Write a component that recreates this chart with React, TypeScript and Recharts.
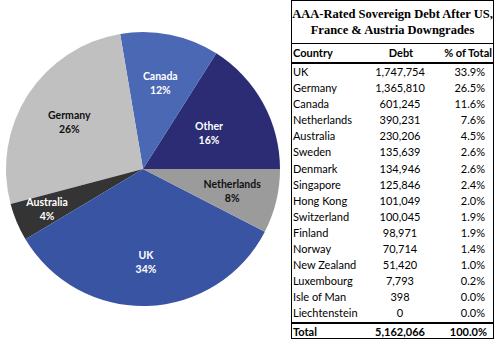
import React from "react";
import { PieChart, Pie, Cell } from "recharts";

// table rows
const countries = [
  "UK", "Germany", "Canada", "Netherlands", "Australia", "Sweden", "Denmark",
  "Singapore", "Hong Kong", "Switzerland", "Finland", "Norway", "New Zealand",
  "Luxembourg", "Isle of Man", "Liechtenstein",
];
const debts = [
  1747754, 1365810, 601245, 390231, 230206, 135639, 134946, 125846, 101049,
  100045, 98971, 70714, 51420, 7793, 398, 0,
];
const shares = [
  "33.9%", "26.5%", "11.6%", "7.6%", "4.5%", "2.6%", "2.6%", "2.4%", "2.0%",
  "1.9%", "1.9%", "1.4%", "1.0%", "0.2%", "0.0%", "0.0%",
];
const totalDebt = 5162066;
const totalShare = "100.0%";

// pie slices, counter-clockwise from 3 o'clock
const pieNames = ["Other", "Canada", "Germany", "Australia", "UK", "Netherlands"];
const shownCountries = ["UK", "Germany", "Canada", "Netherlands", "Australia"];
const otherDebt = countries
  .map((c, i) => (shownCountries.includes(c) ? 0 : debts[i]))
  .reduce((a, b) => a + b, 0);
const pieData = pieNames.map((name) => ({
  name,
  value: name === "Other" ? otherDebt : debts[countries.indexOf(name)],
}));

const sliceColors: Record<string, string> = {
  Other: "#2b2c74",
  Canada: "#4a68b3",
  Germany: "#c0c0c0",
  Australia: "#343434",
  UK: "#3a54a4",
  Netherlands: "#9b9b9b",
};
const labelColors: Record<string, string> = {
  Germany: "#111",
  Netherlands: "#111",
};
const labelRadius: Record<string, number> = {
  Other: 0.55,
  Canada: 0.64,
  Germany: 0.64,
  Australia: 0.76,
  UK: 0.68,
  Netherlands: 0.67,
};

const RAD = Math.PI / 180;
const fmt = (n: number) => n.toLocaleString("en-US");

function SliceLabel(props: any) {
  const { cx, cy, midAngle, outerRadius, percent, name } = props;
  const r = outerRadius * (labelRadius[name] ?? 0.65);
  const x = cx + r * Math.cos(-midAngle * RAD);
  const y = cy + r * Math.sin(-midAngle * RAD);
  return (
    <text
      x={x}
      y={y}
      textAnchor="middle"
      fill={labelColors[name] ?? "#fff"}
      fontFamily="Lato"
      fontWeight="bold"
      fontSize={10.5}
    >
      <tspan x={x} dy={-3}>{name}</tspan>
      <tspan x={x} dy={14}>{Math.round(percent * 100)}%</tspan>
    </text>
  );
}

const ROW_H = 16.1;
const cellFont = { fontFamily: "Lato", fontSize: 11, color: "#000" };

export default function App() {
  return (
    <div
      style={{
        position: "absolute",
        left: 0,
        top: 0,
        width: 500,
        height: 342,
        background: "#fff",
      }}
    >
      <PieChart width={290} height={342} style={{ position: "absolute", left: 0, top: 0 }}>
        <Pie
          data={pieData}
          dataKey="value"
          nameKey="name"
          cx={138}
          cy={164}
          outerRadius={137}
          startAngle={0}
          endAngle={360}
          stroke="none"
          label={SliceLabel}
          labelLine={false}
          isAnimationActive={false}
        >
          {pieData.map((d) => (
            <Cell key={d.name} fill={sliceColors[d.name]} />
          ))}
        </Pie>
      </PieChart>

      {/* title box */}
      <div
        style={{
          position: "absolute",
          left: 291,
          top: 0,
          width: 203,
          height: 44,
          border: "1px solid #000",
          boxSizing: "border-box",
          fontFamily: "Liberation Serif",
          fontWeight: "bold",
          fontSize: 12.5,
          lineHeight: "16px",
          textAlign: "center",
          paddingTop: 5,
        }}
      >
        AAA-Rated Sovereign Debt After US,
        <br />
        France &amp; Austria Downgrades
      </div>

      {/* data table */}
      <div
        style={{
          position: "absolute",
          left: 291,
          top: 44,
          width: 203,
          height: 295,
          border: "1px solid #000",
          borderTop: "none",
          boxSizing: "border-box",
          ...cellFont,
        }}
      >
        <div
          style={{
            position: "relative",
            height: 18,
            lineHeight: "18px",
            borderBottom: "2px solid #000",
            fontWeight: "bold",
          }}
        >
          <span style={{ position: "absolute", left: 1 }}>Country</span>
          <span style={{ position: "absolute", left: 109, width: 0, display: "flex", justifyContent: "center" }}>
            <span>Debt</span>
          </span>
          <span style={{ position: "absolute", right: 1 }}>% of Total</span>
        </div>
        {countries.map((c, i) => (
          <div key={c} style={{ position: "relative", height: ROW_H, lineHeight: `${ROW_H}px` }}>
            <span style={{ position: "absolute", left: 1 }}>{c}</span>
            <span style={{ position: "absolute", left: 108, width: 0, display: "flex", justifyContent: "center" }}>
              <span>{fmt(debts[i])}</span>
            </span>
            <span style={{ position: "absolute", right: 8 }}>{shares[i]}</span>
          </div>
        ))}
        <div
          style={{
            position: "relative",
            height: 15,
            lineHeight: "15px",
            borderTop: "2px solid #000",
            fontWeight: "bold",
          }}
        >
          <span style={{ position: "absolute", left: 1 }}>Total</span>
          <span style={{ position: "absolute", left: 108, width: 0, display: "flex", justifyContent: "center" }}>
            <span>{fmt(totalDebt)}</span>
          </span>
          <span style={{ position: "absolute", right: 6 }}>{totalShare}</span>
        </div>
      </div>
    </div>
  );
}
